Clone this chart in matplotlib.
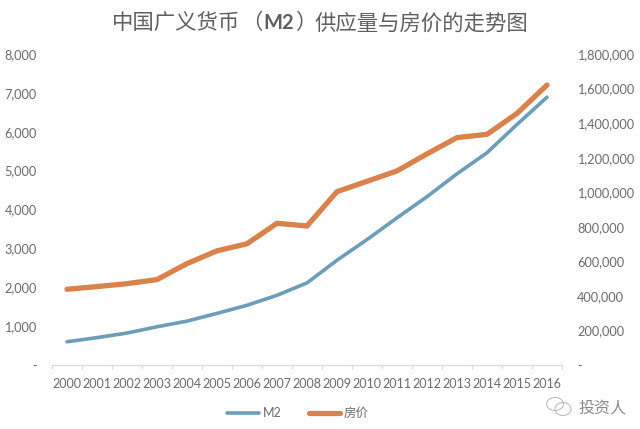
import matplotlib
matplotlib.use('Agg')
import matplotlib.pyplot as plt
from matplotlib.patches import Ellipse
import numpy as np

plt.rcParams['font.family'] = ['Lato', 'Noto Sans CJK SC', 'DejaVu Sans']

# data
years = [str(y) for y in range(2000, 2017)]
m2 = [134610, 158301, 185007, 221223, 254107, 298756, 345578, 403442, 475167,
      606225, 725852, 851590, 974159, 1106525, 1228375, 1392278, 1550067]
house_price = [1948, 2017, 2092, 2197, 2608, 2937, 3119, 3645, 3576,
               4459, 4725, 4993, 5430, 5850, 5933, 6472, 7203]
left_ticks = [0, 1000, 2000, 3000, 4000, 5000, 6000, 7000, 8000]
left_labels = ['-', '1,000', '2,000', '3,000', '4,000', '5,000', '6,000', '7,000', '8,000']
right_ticks = [0, 200000, 400000, 600000, 800000, 1000000, 1200000, 1400000, 1600000, 1800000]
right_labels = ['-', '200,000', '400,000', '600,000', '800,000', '1,000,000',
                '1,200,000', '1,400,000', '1,600,000', '1,800,000']

text_color = '#6b6b6b'
blue = '#6c9db9'
orange = '#d9824b'

W, H = 640, 429
fig = plt.figure(figsize=(6.4, 4.29), dpi=100)
ax = fig.add_axes([52 / W, 1 - 365 / H, 510 / W, 311 / H])
ax2 = ax.twinx()

x = np.arange(len(years))
line2, = ax.plot(x, house_price, color=orange, lw=3.8, solid_capstyle='round',
                 solid_joinstyle='round', zorder=3)
line1, = ax2.plot(x, m2, color=blue, lw=2.6, solid_capstyle='round',
                  solid_joinstyle='round', zorder=2)

ax.set_xlim(-0.5, 16.5)
ax.set_ylim(0, 8000)
ax2.set_ylim(0, 1800000)

ax.set_yticks(left_ticks)
ax.set_yticklabels(left_labels, fontsize=9.2, color=text_color)
ax2.set_yticks(right_ticks)
ax2.set_yticklabels(right_labels, fontsize=9.2, color=text_color)
ax.tick_params(axis='y', length=0, pad=11)
ax2.tick_params(axis='y', length=0, pad=11)

# ticks sit between the categories, labels in the middle
ax.set_xticks(np.arange(-0.5, 17, 1))
ax.set_xticklabels([])
ax.set_xticks(x, minor=True)
ax.set_xticklabels(years, minor=True, fontsize=9, color=text_color)
ax.tick_params(axis='x', which='major', length=3, color='#d9d9d9', width=0.8, direction='out')
ax.tick_params(axis='x', which='minor', length=0, pad=9.5)

for a in (ax, ax2):
    for side in ('top', 'left', 'right'):
        a.spines[side].set_visible(False)
    a.spines['bottom'].set_color('#d9d9d9')
    a.spines['bottom'].set_linewidth(0.8)

# title is in pieces so that M2 can be bold
title_parts = [('中国广义货币', 112, 'normal', 15.4), ('（', 241, 'normal', 15.4), ('M2', 263, 'bold', 14.5),
               ('）', 295, 'normal', 15.4), ('供应量与房价的走势图', 315, 'normal', 15.4)]
for part, px, weight, size in title_parts:
    fig.text(px / W, 1 - 23 / H, part, fontsize=size, color='#5f5f5f', weight=weight,
             ha='left', va='center')

# legend
fig.legend([line1, line2], ['M2', '房价'], loc='center', bbox_to_anchor=(298 / W, 1 - 413 / H),
           ncol=2, frameon=False, fontsize=9, labelcolor=text_color, handlelength=2.5,
           handletextpad=0.3, columnspacing=2.2)

# watermark
for cx, cy, w, h in [(555, 404, 17, 13), (563, 409, 16, 13)]:
    fig.add_artist(Ellipse((cx / W, 1 - cy / H), w / W, h / H, fill=False,
                           ec='#bdbdbd', lw=0.8, transform=fig.transFigure))
fig.text(578 / W, 1 - 408 / H, '投资人', fontsize=11.5, color='#8a8a8a', ha='left', va='center')

fig.savefig('out.png', dpi=100)
